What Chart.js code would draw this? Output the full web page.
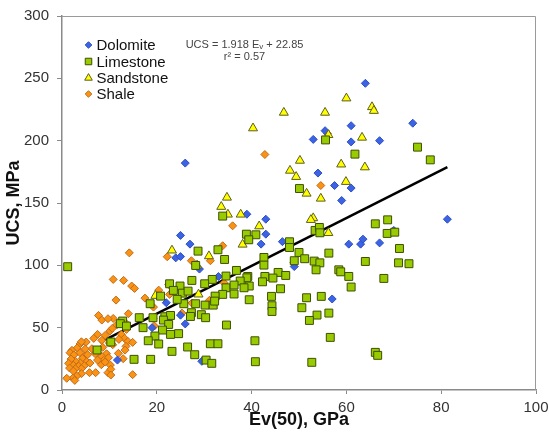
<!DOCTYPE html>
<html>
<head>
<meta charset="utf-8">
<script src="https://cdn.jsdelivr.net/npm/chart.js@4.4.0/dist/chart.umd.min.js"></script>
<style>
  html, body { margin: 0; padding: 0; background: #fff; }
  #wrap { width: 549px; height: 434px; }
</style>
</head>
<body>
<div id="wrap"><canvas id="ucsChart" width="549" height="434"></canvas></div>
<script>
// Ev(50) [GPa], UCS [MPa] pairs
const dolomite = [
  [64, 246], [74, 214], [55.5, 208], [61, 212], [53, 201], [61, 199], [67, 200], [26, 182],
  [54, 174], [57.5, 164], [61, 162], [59, 152], [39, 141], [43, 137], [81.3, 137], [25, 124],
  [43, 125], [46.5, 119], [27, 117], [42, 117], [60.5, 117], [63, 117], [63.5, 121], [67, 118],
  [70, 128], [24, 106], [25, 107], [29, 97], [49, 99], [33, 91], [22, 70], [25, 60],
  [26, 53], [19, 50], [57, 73], [11.7, 24], [29.5, 23]
];
const limestone = [
  [55.6, 200.6], [61.8, 189.2], [75, 194.8], [77.7, 184.6], [50.1, 161.6], [33.9, 139.5], [66.1, 133.3], [68.7, 136.5],
  [68.6, 125.6], [70.2, 126.6], [53.4, 128], [54.3, 130.4], [54.4, 126.1], [38.9, 125], [40.9, 124.5], [39.4, 120.5],
  [48, 118.9], [48, 114.3], [71.2, 113.5], [28.7, 111.4], [32.9, 112.5], [50, 110.3], [56.3, 109.8], [34.3, 104.7],
  [42.6, 106.3], [51.2, 105.3], [53.2, 103.4], [54.4, 102], [64, 103.1], [71, 102], [73.2, 101.3], [49, 103.7],
  [28.2, 99.9], [42.6, 100.2], [53.6, 96.4], [58.4, 96.4], [58.8, 94.8], [34.6, 91.4], [36.8, 95.9], [45.6, 94.3],
  [39.2, 91.1], [39, 90], [42.8, 91.1], [47.2, 91.9], [44.5, 89.8], [67.9, 89.5], [60.5, 91.1], [22.7, 85.2],
  [27.4, 87.9], [31.7, 88.7], [30.1, 85.2], [24.9, 83.4], [23.5, 79.9], [37.6, 87.4], [39.5, 83.4], [42.3, 86.8],
  [34.6, 82], [36.3, 84.2], [46.1, 81.2], [61, 82.6], [38.4, 82], [25.4, 77.7], [26.6, 79.3], [20.8, 75.3],
  [36.3, 77], [33.9, 76.7], [32.3, 75.3], [44.2, 75.1], [51.6, 74], [54.7, 75.1], [18.6, 69.2], [25.7, 69.2],
  [28.2, 69.2], [30.2, 68.1], [31.9, 68.1], [32.2, 71.3], [24.3, 72.7], [39.5, 72.4], [44.3, 67.6], [50.6, 66],
  [27.3, 62], [27.1, 59], [29.4, 60.4], [44.3, 63], [56.3, 61.7], [53.8, 60.1], [52.2, 55.8], [34.7, 52.1],
  [30.3, 58], [21.7, 58.8], [22.9, 59.8], [21.4, 56.1], [22.5, 52.6], [19.2, 58], [16.3, 58], [12.8, 55.3],
  [12.3, 53.2], [13.6, 51.3], [17.1, 50], [21.2, 48.1], [19.6, 43.3], [22.9, 44.6], [24.6, 45.2], [10.3, 38.5],
  [7.4, 32.1], [20.4, 36.9], [18.2, 39.5], [26.5, 34.5], [23.2, 31], [31.3, 37.1], [32.9, 37.1], [40.7, 39.5],
  [28, 28.3], [30.4, 24], [31.6, 21.4], [18.7, 24.6], [15.2, 24.6], [40.8, 22.7], [52.7, 22.2], [56.6, 42.2],
  [66.1, 30.2], [66.6, 27.8], [1.2, 98.9]
];
const sandstone = [
  [60, 234], [65.4, 227], [65.8, 224], [46.8, 222.5], [55.5, 222.5], [40.3, 210], [56.2, 204.6], [63.3, 202.5],
  [50.2, 184], [58.9, 181], [63.9, 178.7], [48.1, 176], [49.4, 171], [59.9, 167], [51.6, 157.6], [34.8, 154.4],
  [54.6, 153.6], [33.6, 147], [35, 140.8], [37.7, 140.8], [41.6, 131.4], [53, 137.9], [52.5, 136.5], [56.2, 126],
  [38.1, 116.7], [23.2, 112], [31, 107.4], [28.5, 100], [19.7, 75.6], [28.8, 76.7]
];
const shale = [
  [56, 205.7], [42.8, 188.9], [54.6, 164], [36, 131.7], [33.9, 115.7], [14.2, 110], [22.2, 106.9], [27.3, 103.7],
  [31.3, 103.7], [48.9, 102], [10.8, 88.7], [13, 87.9], [34.2, 86], [14.7, 83.4], [15.3, 81.5], [22.5, 84.7],
  [20.4, 80.1], [22.7, 76.7], [17.5, 73.7], [11.4, 72.1], [31.1, 71.9], [27.4, 69.7], [19.3, 66.5], [14, 61.2],
  [22.4, 60.1], [22.1, 58.5], [25.3, 61.7], [7.7, 59.8], [8.4, 56.1], [10.8, 57.4], [9.7, 57.2], [19.2, 57.4],
  [19.5, 51.3], [13.3, 54.2], [11.5, 52.1], [7.5, 44.6], [9.1, 43.8], [10.1, 47.3], [10.6, 49.4], [12.5, 44.6],
  [13.6, 48.6], [13.2, 41.4], [13.9, 39], [14.9, 38.2], [12, 40.6], [6.7, 41.4], [5.1, 38.5], [3.8, 36.9],
  [4.1, 38.7], [8.4, 39.8], [10, 37.7], [10.7, 36.3], [13.5, 35], [13.3, 32], [8.6, 34.2], [6.3, 33.1],
  [4.9, 32.9], [3.2, 33.7], [2.1, 31.8], [1.7, 29.9], [2.5, 28.1], [3.8, 29.9], [4.7, 27], [4.3, 25.4],
  [5.4, 28.3], [7, 29.1], [9.4, 29.1], [8.4, 27], [11.9, 29.4], [9.8, 25.9], [8.8, 23.8], [7.5, 24],
  [5.2, 22.7], [3.8, 21.9], [2.8, 23.2], [1.9, 24.8], [1.4, 21.4], [2.4, 19.8], [3.5, 19.2], [4.7, 19.5],
  [4.1, 17.1], [2.8, 17.1], [1.6, 17.6], [5.9, 21.6], [8.3, 20.3], [9.1, 22.4], [12.9, 25.1], [10.2, 20],
  [5.8, 13.9], [7.1, 13.9], [9.7, 13.9], [10.3, 16.6], [10.3, 12], [14.9, 12.3], [4.1, 13.1], [3.1, 11.2],
  [2.3, 9.6], [1, 9.4], [2.7, 7.7], [2.4, 15.2]
];
// regression line end points (UCS = 1.918 Ev + 22.85)
const trendX = [8, 81.3];
const trendY = [38.2, 178.8];

const xTicks = [0, 20, 40, 60, 80, 100];
const yTicks = [0, 50, 100, 150, 200, 250, 300];

const toXY = arr => arr.map(p => ({ x: p[0], y: p[1] }));

const styles = {
  Dolomite:  { pointStyle: 'rectRot',  radius: 4,   bg: '#3b63e3', border: '#2b4fc4' },
  Limestone: { pointStyle: 'rect',     radius: 5.6, bg: '#99cc00', border: '#3f4f00' },
  Sandstone: { pointStyle: 'triangle', radius: 5.2, bg: '#ffff00', border: '#5e5e1e' },
  Shale:     { pointStyle: 'rectRot',  radius: 4,   bg: '#fa9214', border: '#c06c1c' }
};

function series(name, pts) {
  const s = styles[name];
  return {
    label: name,
    data: toXY(pts),
    pointStyle: s.pointStyle,
    pointRadius: s.radius,
    backgroundColor: s.bg,
    borderColor: s.border,
    borderWidth: 1,
    showLine: false
  };
}

// legend + equation drawn inside the plot, plus the box round the plot
const insidePlugin = {
  id: 'inside',
  afterDraw(chart) {
    const ctx = chart.ctx;
    const a = chart.chartArea;
    ctx.save();
    ctx.strokeStyle = '#9a9a9a';
    ctx.lineWidth = 1;
    ctx.beginPath();
    ctx.moveTo(a.left, a.top + 0.5);
    ctx.lineTo(a.right - 0.5, a.top + 0.5);
    ctx.lineTo(a.right - 0.5, a.bottom);
    ctx.stroke();

    const order = ['Dolomite', 'Limestone', 'Sandstone', 'Shale'];
    const rowY = [45, 61.5, 78, 94];
    ctx.font = '15px "Liberation Sans", Arial, sans-serif';
    ctx.textBaseline = 'middle';
    order.forEach((name, i) => {
      const s = styles[name];
      ctx.fillStyle = s.bg;
      ctx.strokeStyle = s.border;
      ctx.lineWidth = 1;
      const r = name === 'Limestone' ? 4.6 : (name === 'Sandstone' ? 4.4 : 3.3);
      Chart.helpers.drawPoint(ctx, { pointStyle: s.pointStyle, radius: r, borderWidth: 1 }, 88.5, rowY[i]);
      ctx.fillStyle = '#111';
      ctx.textAlign = 'left';
      ctx.fillText(name, 96.5, rowY[i] + 1);
    });

    ctx.fillStyle = '#444';
    ctx.font = '11px "Liberation Sans", Arial, sans-serif';
    ctx.textAlign = 'left';
    const left = 'UCS = 1.918 E';
    const right = ' + 22.85';
    const wl = ctx.measureText(left).width;
    ctx.font = '8px "Liberation Sans", Arial, sans-serif';
    const wv = ctx.measureText('v').width;
    ctx.font = '11px "Liberation Sans", Arial, sans-serif';
    const wr = ctx.measureText(right).width;
    const x0 = 244.5 - (wl + wv + wr) / 2;
    ctx.fillText(left, x0, 44.5);
    ctx.font = '8px "Liberation Sans", Arial, sans-serif';
    ctx.fillText('v', x0 + wl, 47);
    ctx.font = '11px "Liberation Sans", Arial, sans-serif';
    ctx.fillText(right, x0 + wl + wv, 44.5);
    ctx.textAlign = 'center';
    ctx.fillText('r² = 0.57', 244.5, 56.5);
    ctx.restore();
  }
};

const ctx = document.getElementById('ucsChart').getContext('2d');
new Chart(ctx, {
  type: 'scatter',
  data: {
    datasets: [
      series('Limestone', limestone),
      series('Sandstone', sandstone),
      series('Dolomite', dolomite),
      series('Shale', shale),
      {
        label: 'trend',
        type: 'line',
        data: trendX.map((x, i) => ({ x: x, y: trendY[i] })),
        borderColor: '#000',
        borderWidth: 2.5,
        pointRadius: 0,
        showLine: true,
        fill: false
      }
    ]
  },
  options: {
    responsive: false,
    animation: false,
    layout: { padding: { left: 0, top: 16, right: 13, bottom: 0 } },
    plugins: {
      legend: { display: false },
      tooltip: { enabled: false }
    },
    scales: {
      x: {
        type: 'linear',
        min: 0,
        max: 100,
        afterBuildTicks: s => { s.ticks = xTicks.map(v => ({ value: v })); },
        afterFit: s => { s.height = 44; s.paddingLeft = 0; s.paddingRight = 0; },
        grid: { drawOnChartArea: false, color: '#8a8a8a', tickLength: 4 },
        border: { color: '#8a8a8a', width: 1.5 },
        ticks: { color: '#333', font: { size: 15, family: '"Liberation Sans", Arial, sans-serif' }, padding: 5, maxRotation: 0 },
        title: {
          display: true,
          text: 'Ev(50), GPa',
          color: '#111',
          font: { size: 18, weight: 'bold', family: '"Liberation Sans", Arial, sans-serif' },
          padding: { top: 0, bottom: 3 }
        }
      },
      y: {
        type: 'linear',
        min: 0,
        max: 300,
        afterBuildTicks: s => { s.ticks = yTicks.map(v => ({ value: v })); },
        afterFit: s => { s.width = 62; s.paddingTop = 0; s.paddingBottom = 0; },
        grid: { drawOnChartArea: false, color: '#8a8a8a', tickLength: 5 },
        border: { color: '#8a8a8a', width: 1.5 },
        ticks: { color: '#333', font: { size: 15, family: '"Liberation Sans", Arial, sans-serif' }, padding: 8 },
        title: {
          display: true,
          text: 'UCS, MPa',
          color: '#111',
          font: { size: 18, weight: 'bold', family: '"Liberation Sans", Arial, sans-serif' },
          padding: { top: 3, bottom: 0 }
        }
      }
    }
  },
  plugins: [insidePlugin]
});
</script>
</body>
</html>
